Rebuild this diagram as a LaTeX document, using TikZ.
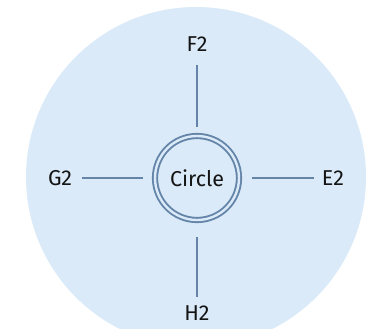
\documentclass[tikz,border=0pt]{standalone}
\usepackage{fontspec}
\setmainfont{Fira Sans}
\definecolor{bgblue}{RGB}{218,234,248}
\definecolor{linkblue}{RGB}{100,133,168}
\definecolor{txt}{RGB}{20,20,20}
\begin{document}
\begin{tikzpicture}[x=1pt,y=-1pt,
  lbl/.style={text=txt,font=\fontsize{21.5}{25}\selectfont,inner sep=0pt},
  link/.style={draw=linkblue,line width=1.1pt}]
\useasboundingbox (0,0) rectangle (372,329);
\begin{scope}
\clip (0,0) rectangle (372,329);
\fill[bgblue] (196,177) circle[radius=170];
\end{scope}
\node[circle,draw=linkblue,double=bgblue,double distance=2.4pt,line width=1.9pt,
  minimum size=84pt,inner sep=0pt,text=txt,font=\fontsize{21.5}{25}\selectfont] (c) at (197,178) {Circle};
\node[lbl] (f) at (197,44) {F2};
\node[lbl] (h) at (197,313) {H2};
\node[lbl] (g) at (60,178) {G2};
\node[lbl] (e) at (333,178) {E2};
\coordinate (f1) at (197,65); \coordinate (f2) at (197,127);
\coordinate (h1) at (197,237); \coordinate (h2) at (197,297);
\coordinate (g1) at (82,178); \coordinate (g2) at (143,178);
\coordinate (e1) at (252,178); \coordinate (e2) at (314,178);
\draw[link] (f1) -- (f2);
\draw[link] (h1) -- (h2);
\draw[link] (g1) -- (g2);
\draw[link] (e1) -- (e2);
\end{tikzpicture}
\end{document}
